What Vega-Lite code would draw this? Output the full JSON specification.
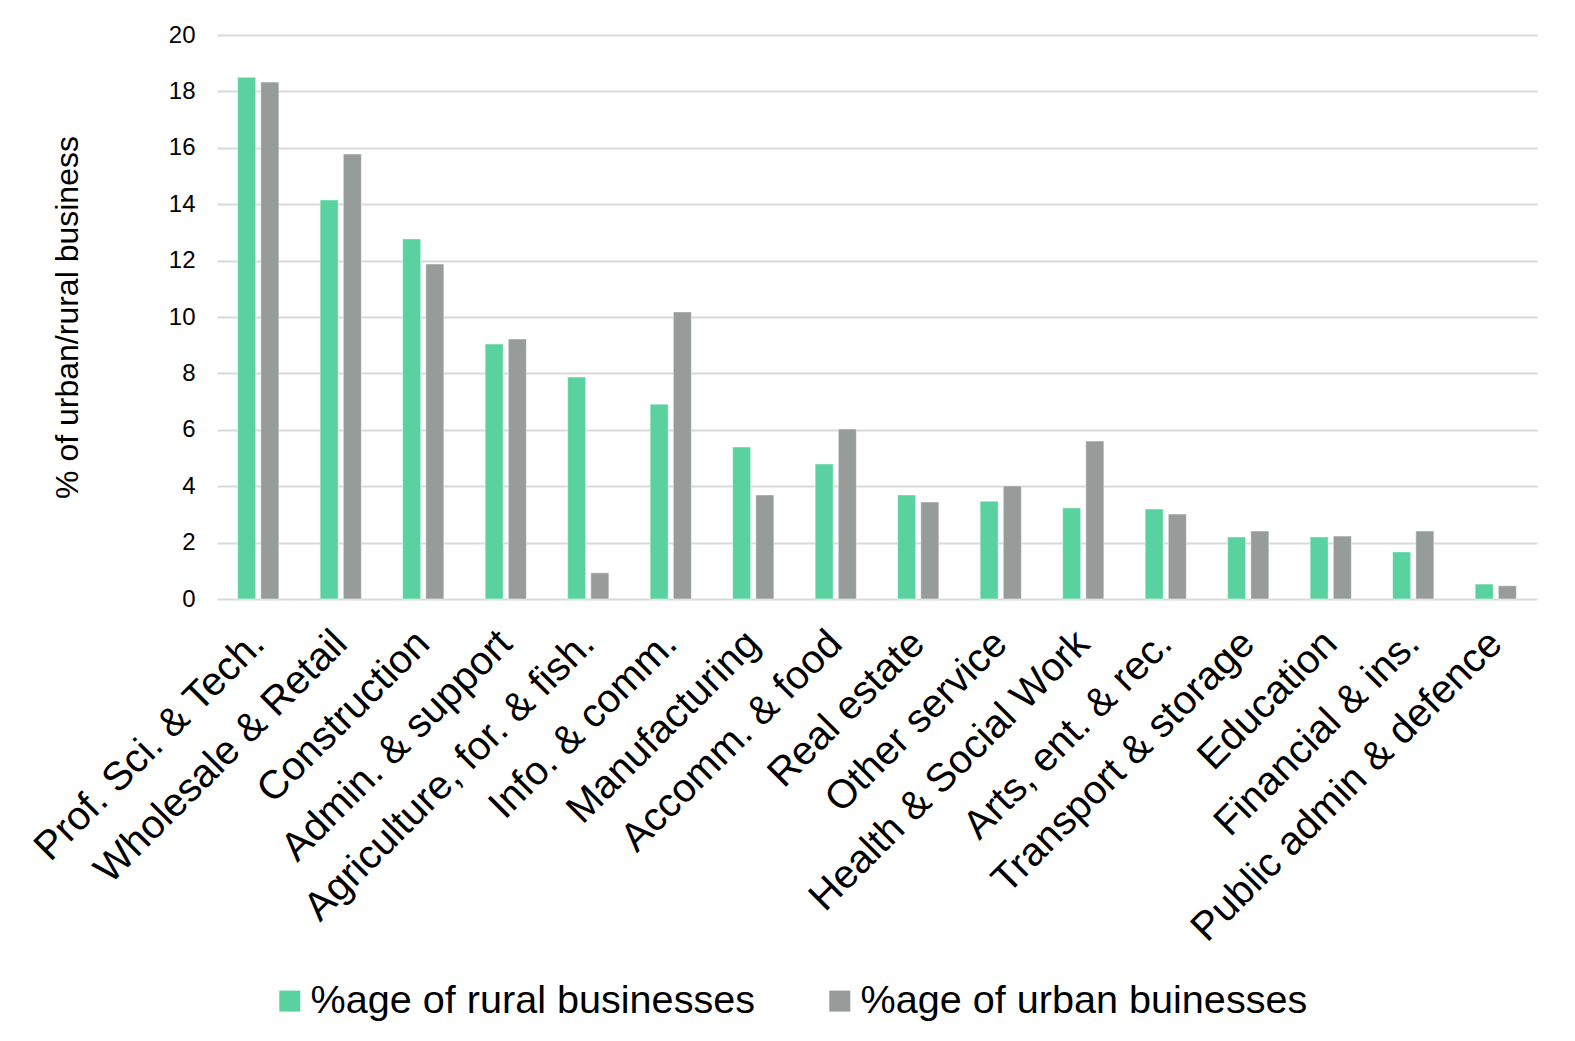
{
  "$schema": "https://vega.github.io/schema/vega-lite/v6.json",
  "autosize": {"type": "none"},
  "width": 1320,
  "height": 564,
  "padding": {"left": 217, "top": 35, "right": 38, "bottom": 442},
  "background": "white",
  "config": {
    "font": "Liberation Sans",
    "view": {"stroke": null}
  },
  "data": {
    "values": [
      {"sector": "Prof. Sci. & Tech.", "series": "%age of rural businesses", "value": 18.5},
      {"sector": "Prof. Sci. & Tech.", "series": "%age of urban buinesses", "value": 18.33},
      {"sector": "Wholesale & Retail", "series": "%age of rural businesses", "value": 14.15},
      {"sector": "Wholesale & Retail", "series": "%age of urban buinesses", "value": 15.78},
      {"sector": "Construction", "series": "%age of rural businesses", "value": 12.77},
      {"sector": "Construction", "series": "%age of urban buinesses", "value": 11.88},
      {"sector": "Admin. & support", "series": "%age of rural businesses", "value": 9.04},
      {"sector": "Admin. & support", "series": "%age of urban buinesses", "value": 9.22},
      {"sector": "Agriculture, for. & fish.", "series": "%age of rural businesses", "value": 7.87},
      {"sector": "Agriculture, for. & fish.", "series": "%age of urban buinesses", "value": 0.93},
      {"sector": "Info. & comm.", "series": "%age of rural businesses", "value": 6.91},
      {"sector": "Info. & comm.", "series": "%age of urban buinesses", "value": 10.18},
      {"sector": "Manufacturing", "series": "%age of rural businesses", "value": 5.39},
      {"sector": "Manufacturing", "series": "%age of urban buinesses", "value": 3.69},
      {"sector": "Accomm. & food", "series": "%age of rural businesses", "value": 4.79},
      {"sector": "Accomm. & food", "series": "%age of urban buinesses", "value": 6.03},
      {"sector": "Real estate", "series": "%age of rural businesses", "value": 3.69},
      {"sector": "Real estate", "series": "%age of urban buinesses", "value": 3.44},
      {"sector": "Other service", "series": "%age of rural businesses", "value": 3.47},
      {"sector": "Other service", "series": "%age of urban buinesses", "value": 4.01},
      {"sector": "Health & Social Work", "series": "%age of rural businesses", "value": 3.23},
      {"sector": "Health & Social Work", "series": "%age of urban buinesses", "value": 5.6},
      {"sector": "Arts, ent. & rec.", "series": "%age of rural businesses", "value": 3.19},
      {"sector": "Arts, ent. & rec.", "series": "%age of urban buinesses", "value": 3.01},
      {"sector": "Transport & storage", "series": "%age of rural businesses", "value": 2.2},
      {"sector": "Transport & storage", "series": "%age of urban buinesses", "value": 2.41},
      {"sector": "Education", "series": "%age of rural businesses", "value": 2.2},
      {"sector": "Education", "series": "%age of urban buinesses", "value": 2.23},
      {"sector": "Financial & ins.", "series": "%age of rural businesses", "value": 1.67},
      {"sector": "Financial & ins.", "series": "%age of urban buinesses", "value": 2.41},
      {"sector": "Public admin & defence", "series": "%age of rural businesses", "value": 0.53},
      {"sector": "Public admin & defence", "series": "%age of urban buinesses", "value": 0.47}
    ]
  },
  "mark": {"type": "bar", "stroke": "#ffffff", "strokeWidth": 0.8, "strokeOpacity": 0.6},
  "encoding": {
    "x": {
      "field": "sector",
      "type": "nominal",
      "sort": null,
      "scale": {"paddingInner": 0.5, "paddingOuter": 0.25},
      "axis": {
        "title": null,
        "labelAngle": -45,
        "labelAlign": "right",
        "labelBaseline": "middle",
        "labelFontSize": 40,
        "labelColor": "#000000",
        "labelPadding": 38,
        "ticks": false,
        "domain": false,
        "labelLimit": 1000,
        "labelOverlap": false
      }
    },
    "xOffset": {
      "field": "series",
      "type": "nominal",
      "scale": {"paddingInner": 0.22}
    },
    "y": {
      "field": "value",
      "type": "quantitative",
      "scale": {"domain": [0, 20], "nice": false},
      "axis": {
        "title": "% of urban/rural business",
        "titleFontSize": 32,
        "titleFontWeight": "normal",
        "titleColor": "#000000",
        "titlePadding": 84,
        "values": [0, 2, 4, 6, 8, 10, 12, 14, 16, 18, 20],
        "labelFontSize": 24,
        "labelColor": "#000000",
        "labelPadding": 22,
        "ticks": false,
        "domain": false,
        "gridColor": "#d9d9d9",
        "gridWidth": 2
      }
    },
    "color": {
      "field": "series",
      "type": "nominal",
      "scale": {
        "domain": ["%age of rural businesses", "%age of urban buinesses"],
        "range": ["#59d2a0", "#979c9b"]
      },
      "legend": {
        "title": null,
        "orient": "none",
        "direction": "horizontal",
        "legendX": 53,
        "legendY": 946,
        "padding": 0,
        "symbolType": "square",
        "symbolSize": 441,
        "symbolStrokeWidth": 0,
        "symbolOpacity": 1,
        "labelFontSize": 39.6,
        "labelColor": "#000000",
        "labelOffset": 1,
        "labelLimit": 1000,
        "columnPadding": 64
      }
    }
  }
}
